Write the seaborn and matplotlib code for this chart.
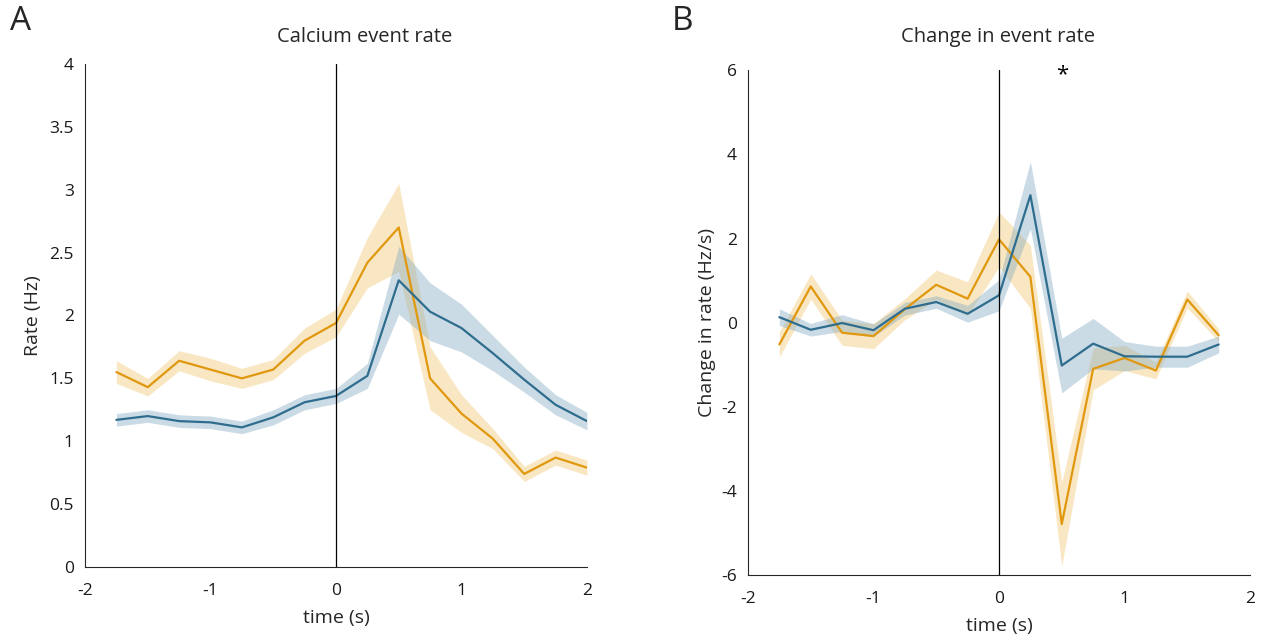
import matplotlib
matplotlib.use("Agg")
import matplotlib.pyplot as plt
import seaborn as sns
import numpy as np

# time bins (s)
time_a = [-1.75, -1.5, -1.25, -1.0, -0.75, -0.5, -0.25, 0.0, 0.25, 0.5, 0.75, 1.0, 1.25, 1.5, 1.75, 2.0]
time_b = [-1.75, -1.5, -1.25, -1.0, -0.75, -0.5, -0.25, 0.0, 0.25, 0.5, 0.75, 1.0, 1.25, 1.5, 1.75]

# panel A: calcium event rate (Hz), mean and sem
orange_a = [1.55, 1.43, 1.64, 1.57, 1.50, 1.57, 1.80, 1.94, 2.42, 2.70, 1.50, 1.22, 1.02, 0.74, 0.87, 0.79]
orange_a_err = [0.09, 0.07, 0.08, 0.09, 0.08, 0.08, 0.10, 0.11, 0.20, 0.35, 0.25, 0.15, 0.08, 0.06, 0.06, 0.06]
blue_a = [1.17, 1.20, 1.16, 1.15, 1.11, 1.19, 1.31, 1.36, 1.52, 2.28, 2.03, 1.90, 1.70, 1.49, 1.29, 1.16]
blue_a_err = [0.05, 0.05, 0.05, 0.05, 0.05, 0.06, 0.06, 0.06, 0.10, 0.27, 0.23, 0.19, 0.14, 0.10, 0.08, 0.07]

# panel B: change in event rate (Hz/s), mean and sem
orange_b = [-0.52, 0.86, -0.24, -0.32, 0.32, 0.90, 0.57, 1.98, 1.09, -4.79, -1.10, -0.84, -1.14, 0.55, -0.30]
orange_b_err = [0.30, 0.30, 0.30, 0.30, 0.25, 0.35, 0.40, 0.65, 0.75, 1.00, 0.50, 0.30, 0.20, 0.20, 0.15]
blue_b = [0.13, -0.17, -0.01, -0.18, 0.33, 0.49, 0.21, 0.65, 3.03, -1.02, -0.50, -0.80, -0.81, -0.81, -0.52]
blue_b_err = [0.20, 0.15, 0.20, 0.15, 0.15, 0.15, 0.20, 0.37, 0.80, 0.65, 0.60, 0.35, 0.25, 0.25, 0.20]

orange_line = "#E0980E"
orange_fill = "#F2C46A"
blue_line = "#2F6D8E"
blue_fill = "#7FA7C0"
axis_col = "#262626"

sns.set_style("white")
plt.rcParams["font.family"] = ["Open Sans", "DejaVu Sans"]
plt.rcParams["axes.unicode_minus"] = False

fig = plt.figure(figsize = (12.71, 6.4), dpi = 100)
ax_a = fig.add_axes([0.0669, 0.1141, 0.3949, 0.7859])
ax_b = fig.add_axes([0.5885, 0.1016, 0.3950, 0.7886])


def draw_panel(ax, t, series):
    for mean, err, lc, fc in series:
        m = np.array(mean)
        e = np.array(err)
        ax.fill_between(t, m - e, m + e, color = fc, alpha = 0.4, linewidth = 0)
    for mean, err, lc, fc in series:
        sns.lineplot(x = t, y = mean, ax = ax, color = lc, linewidth = 1.6)
    for side in ["top", "right"]:
        ax.spines[side].set_visible(False)
    for side in ["left", "bottom"]:
        ax.spines[side].set_color(axis_col)
        ax.spines[side].set_linewidth(0.8)
    ax.tick_params(axis = "both", colors = axis_col, labelcolor = "#1a1a1a", labelsize = 12.5, length = 4, width = 0.8, direction = "in")
    ax.tick_params(axis = "x", pad = 11.5)
    ax.tick_params(axis = "y", pad = 8)
    ax.set_xlim(-2, 2)
    ax.set_xticks([-2, -1, 0, 1, 2])
    ax.set_xticklabels(["-2", "-1", "0", "1", "2"])


draw_panel(ax_a, time_a, [(orange_a, orange_a_err, orange_line, orange_fill), (blue_a, blue_a_err, blue_line, blue_fill)])
ax_a.set_ylim(0, 4)
ax_a.set_yticks([0, 0.5, 1, 1.5, 2, 2.5, 3, 3.5, 4])
ax_a.set_yticklabels(["0", "0.5", "1", "1.5", "2", "2.5", "3", "3.5", "4"])
ax_a.axvline(0, color = "black", linewidth = 0.9, zorder = 5)
ax_a.set_xlabel("time (s)", fontsize = 14, labelpad = 7)
ax_a.set_ylabel("Rate (Hz)", fontsize = 14, labelpad = 5)

draw_panel(ax_b, time_b, [(orange_b, orange_b_err, orange_line, orange_fill), (blue_b, blue_b_err, blue_line, blue_fill)])
ax_b.set_ylim(-6, 6)
ax_b.set_yticks([-6, -4, -2, 0, 2, 4, 6])
ax_b.set_yticklabels(["-6", "-4", "-2", "0", "2", "4", "6"])
ax_b.axvline(0, color = "black", linewidth = 0.9, zorder = 5)
ax_b.set_xlabel("time (s)", fontsize = 14, labelpad = 7)
ax_b.set_ylabel("Change in rate (Hz/s)", fontsize = 14)
ax_b.text(0.5, 5.9, "*", ha = "center", va = "center", fontsize = 16, color = "black")

fig.text(365 / 1271, 1 - 37 / 640, "Calcium event rate", ha = "center", va = "center", fontsize = 14.5)
fig.text(998 / 1271, 1 - 37 / 640, "Change in event rate", ha = "center", va = "center", fontsize = 14.5)
fig.text(10 / 1271, 1 - 22 / 640, "A", ha = "left", va = "center", fontsize = 24)
fig.text(672 / 1271, 1 - 22 / 640, "B", ha = "left", va = "center", fontsize = 24)

fig.savefig("out.png", dpi = 100)
plt.close(fig)
